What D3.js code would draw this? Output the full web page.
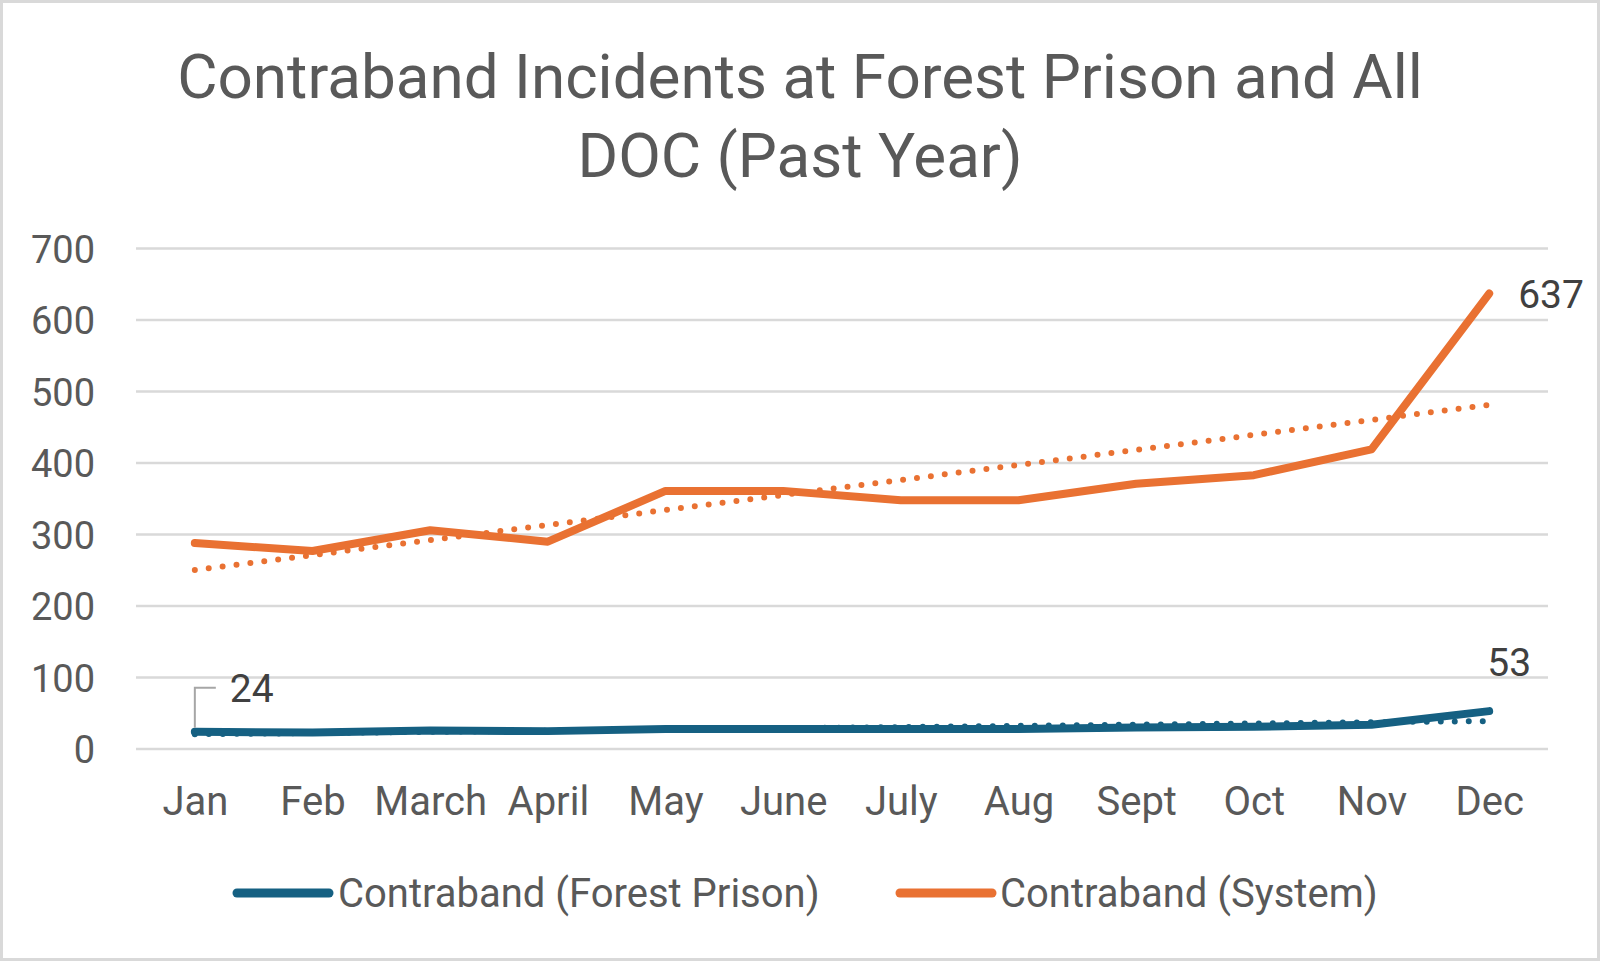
<!DOCTYPE html>
<html>
<head>
<meta charset="utf-8">
<script src="https://cdn.jsdelivr.net/npm/d3@7"></script>
<style>
  body { margin: 0; background: #fff; }
  svg text { font-family: Roboto, "Noto Sans", sans-serif; }
</style>
</head>
<body>
<svg></svg>
<script>
// Chart data
const months = ["Jan", "Feb", "March", "April", "May", "June", "July", "Aug", "Sept", "Oct", "Nov", "Dec"];
const forestValues = [24, 23, 26, 25, 28, 28, 28, 28, 30, 31, 34, 53];
const systemValues = [288, 277, 306, 290, 361, 361, 348, 348, 371, 383, 419, 637];
const yTicks = [0, 100, 200, 300, 400, 500, 600, 700];
const seriesNames = ["Contraband (Forest Prison)", "Contraband (System)"];
const titleLines = ["Contraband Incidents at Forest Prison and All", "DOC (Past Year)"];

document.addEventListener("DOMContentLoaded", function () {
  const w = 1600;
  const h = 961;
  const blue = "#156082";
  const orange = "#E97132";

  const svg = d3.select("svg")
    .attr("width", w)
    .attr("height", h);

  svg.append("rect")
    .attr("x", 1.5)
    .attr("y", 1.5)
    .attr("width", w - 3)
    .attr("height", h - 3)
    .attr("fill", "#fff")
    .attr("stroke", "#D9D9D9")
    .attr("stroke-width", 3);

  // Title
  svg.append("g")
    .selectAll("text")
    .data(titleLines)
    .enter()
    .append("text")
    .attr("x", 800)
    .attr("y", (d, i) => 98 + i * 79)
    .attr("text-anchor", "middle")
    .attr("font-size", 62)
    .attr("fill", "#595959")
    .text((d) => d);

  // Scales
  const x = d3.scalePoint()
    .domain(months)
    .range([136, 1548])
    .padding(0.5);

  const y = d3.scaleLinear()
    .domain([0, 700])
    .range([749, 248.5]);

  // Gridlines
  svg.append("g")
    .selectAll("line")
    .data(yTicks)
    .enter()
    .append("line")
    .attr("x1", 136)
    .attr("x2", 1548)
    .attr("y1", (d) => y(d))
    .attr("y2", (d) => y(d))
    .attr("stroke", "#D9D9D9")
    .attr("stroke-width", 2.5);

  // Y axis labels
  const yAxis = svg.append("g")
    .attr("transform", "translate(95,0)")
    .call(d3.axisLeft(y).tickValues(yTicks).tickSize(0).tickPadding(0));
  yAxis.select(".domain").remove();
  yAxis.selectAll("text")
    .attr("font-size", 38)
    .attr("fill", "#595959")
    .attr("dy", "0.36em");

  // X axis labels
  const xAxis = svg.append("g")
    .attr("transform", "translate(0,815)")
    .call(d3.axisBottom(x).tickSize(0).tickPadding(0));
  xAxis.select(".domain").remove();
  xAxis.selectAll("text")
    .attr("font-size", 40)
    .attr("fill", "#595959")
    .attr("dy", 0);

  // Linear trendlines (least squares over the month index)
  const trend = (values) => {
    const n = values.length;
    const mx = (n - 1) / 2;
    const my = d3.mean(values);
    const slope = d3.sum(values, (v, i) => (i - mx) * (v - my)) / d3.sum(values, (v, i) => (i - mx) * (i - mx));
    return [[0, my - slope * mx], [n - 1, my + slope * (n - 1 - mx)]];
  };

  const trendLine = d3.line()
    .x((d) => x(months[d[0]]))
    .y((d) => y(d[1]));

  const series = [
    { values: systemValues, color: orange },
    { values: forestValues, color: blue }
  ];

  svg.append("g")
    .selectAll("path")
    .data(series)
    .enter()
    .append("path")
    .attr("d", (d) => trendLine(trend(d.values)))
    .attr("fill", "none")
    .attr("stroke", (d) => d.color)
    .attr("stroke-width", 6)
    .attr("stroke-linecap", "round")
    .attr("stroke-dasharray", "0 14");

  const line = d3.line()
    .x((d, i) => x(months[i]))
    .y((d) => y(d));

  svg.append("g")
    .selectAll("path")
    .data(series)
    .enter()
    .append("path")
    .attr("d", (d) => line(d.values))
    .attr("fill", "none")
    .attr("stroke", (d) => d.color)
    .attr("stroke-width", 8)
    .attr("stroke-linecap", "round")
    .attr("stroke-linejoin", "round");

  // Data labels
  const last = months.length - 1;
  const labels = svg.append("g")
    .attr("font-size", 39)
    .attr("fill", "#404040");

  // leader line for first Forest Prison label
  const x0 = x(months[0]);
  svg.append("path")
    .attr("d", `M${x0},${y(forestValues[0]) - 4}V${y(forestValues[0]) - 44}H${x0 + 21}`)
    .attr("fill", "none")
    .attr("stroke", "#A6A6A6")
    .attr("stroke-width", 2);

  labels.append("text")
    .attr("x", x0 + 35)
    .attr("y", y(forestValues[0]) - 30)
    .text(forestValues[0]);

  labels.append("text")
    .attr("x", x(months[last]) + 20)
    .attr("y", y(forestValues[last]) - 35)
    .attr("text-anchor", "middle")
    .text(forestValues[last]);

  labels.append("text")
    .attr("x", x(months[last]) + 29)
    .attr("y", y(systemValues[last]) + 14)
    .text(systemValues[last]);

  // Legend
  const legend = svg.append("g")
    .attr("transform", "translate(0,893)");

  const legendItems = legend.selectAll("g")
    .data(seriesNames)
    .enter()
    .append("g")
    .attr("transform", (d, i) => `translate(${i === 0 ? 237 : 900},0)`);

  legendItems.append("line")
    .attr("x1", 0)
    .attr("x2", 92)
    .attr("stroke", (d, i) => i === 0 ? blue : orange)
    .attr("stroke-width", 9)
    .attr("stroke-linecap", "round");

  legendItems.append("text")
    .attr("x", (d, i) => i === 0 ? 101 : 100)
    .attr("y", 14)
    .attr("font-size", 40)
    .attr("fill", "#595959")
    .text((d) => d);
});
</script>
</body>
</html>
